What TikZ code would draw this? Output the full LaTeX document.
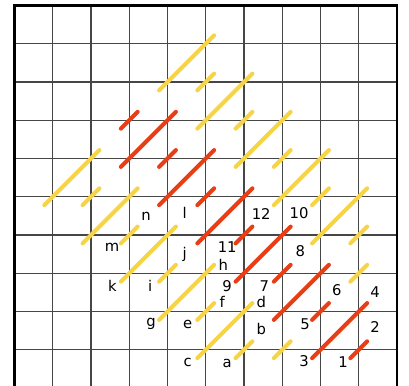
\documentclass[tikz,border=0pt]{standalone}
\usepackage{fontspec}
\setmainfont{DejaVu Sans}
\usepackage{tikz}
\definecolor{gridgrey}{RGB}{70,70,70}
\definecolor{stitchred}{RGB}{232,62,22}
\definecolor{stitchyellow}{RGB}{246,212,70}

\begin{document}
\begin{tikzpicture}[
			x=1cm, y=1cm,
			gridline/.style={draw=gridgrey, line width=1.1pt},
			border/.style={draw=black, line width=2.2pt},
			redstitch/.style={draw=stitchred, line width=3pt, line cap=round},
			yellowstitch/.style={draw=stitchyellow, line width=3pt, line cap=round},
			lbl/.style={font=\fontsize{11}{12}\selectfont, inner sep=0pt}
			]
			\useasboundingbox (-0.379,0.078) rectangle (10.314,10.144);
			% Grid
			\foreach \i in {1,...,9} {
				\draw[gridline] (\i,0) -- (\i,10);
				\draw[gridline] (0,\i) -- (10,\i);
			}
			\draw[gridline] (0,0) -- (10,0);
			\draw[border] (0,0) -- (0,10) -- (10,10) -- (10,0);
			
			% Yellow stitches
			\foreach \x/\y in {1/5,2/4,3/3,4/2,5/1,4/8,5/7,6/6,7/5,8/4}
				\draw[yellowstitch] (\x-0.22,\y-0.22) -- (\x+1.22,\y+1.22);
			\foreach \x/\y in {2/5,3/4,4/3,5/2,6/1,7/1,5/8,6/7,7/6,8/5,9/4,9/3}
				\draw[yellowstitch] (\x-0.22,\y-0.22) -- (\x+0.22,\y+0.22);
			
			% Red stitches
			\foreach \x/\y in {3/6,4/5,5/4,6/3,7/2,8/1}
				\draw[redstitch] (\x-0.22,\y-0.22) -- (\x+1.22,\y+1.22);
			\foreach \x/\y in {3/7,4/6,5/5,6/4,7/3,8/2,9/1}
				\draw[redstitch] (\x-0.22,\y-0.22) -- (\x+0.22,\y+0.22);
			
			% Labels
			\node[lbl] (la) at (5.56,0.63) {a};
			\node[lbl] (lb) at (6.45,1.54) {b};
			\node[lbl] (lc) at (4.53,0.68) {c};
			\node[lbl] (ld) at (6.45,2.25) {d};
			\node[lbl] (le) at (4.53,1.67) {e};
			\node[lbl] (lf) at (5.43,2.25) {f};
			\node[lbl] (lg) at (3.57,1.67) {g};
			\node[lbl] (lh) at (5.46,3.21) {h};
			\node[lbl] (li) at (3.55,2.66) {i};
			\node[lbl] (lj) at (4.45,3.50) {j};
			\node[lbl] (lk) at (2.56,2.66) {k};
			\node[lbl] (ll) at (4.45,4.59) {l};
			\node[lbl] (lm) at (2.55,3.68) {m};
			\node[lbl] (ln) at (3.44,4.49) {n};
			\node[lbl] (n1) at (8.59,0.68) {1};
			\node[lbl] (n2) at (9.43,1.59) {2};
			\node[lbl] (n3) at (7.57,0.70) {3};
			\node[lbl] (n4) at (9.43,2.51) {4};
			\node[lbl] (n5) at (7.60,1.67) {5};
			\node[lbl] (n6) at (8.43,2.56) {6};
			\node[lbl] (n7) at (6.53,2.66) {7};
			\node[lbl] (n8) at (7.47,3.58) {8};
			\node[lbl] (n9) at (5.56,2.66) {9};
			\node[lbl] (n10) at (7.44,4.57) {10};
			\node[lbl] (n11) at (5.56,3.68) {11};
			\node[lbl] (n12) at (6.45,4.54) {12};
		\end{tikzpicture}
\end{document}
